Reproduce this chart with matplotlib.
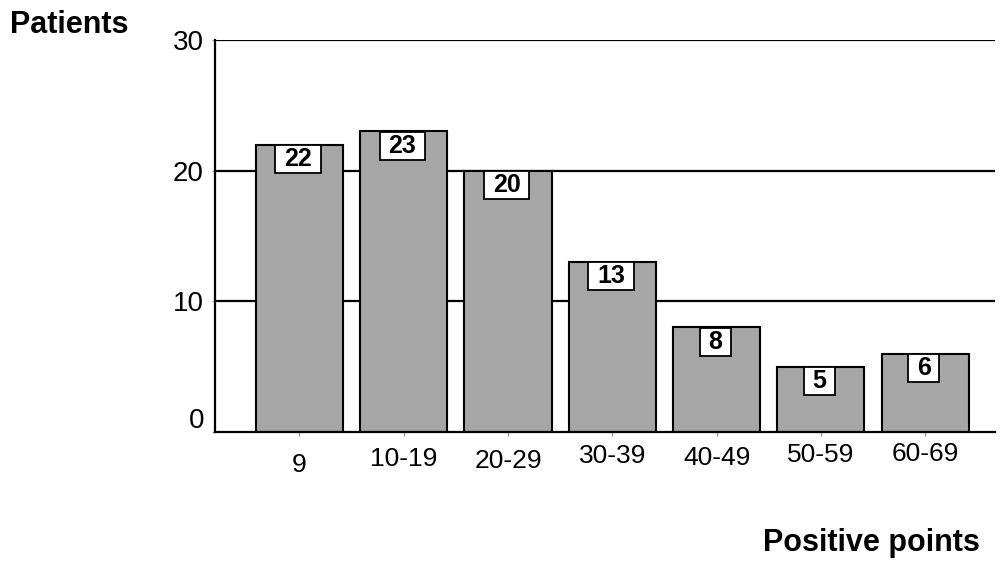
import matplotlib as mpl
mpl.use('Agg')
import matplotlib.pyplot as plt
import matplotlib.transforms as mtransforms
from matplotlib.path import Path

# データ
categories = ['9', '10-19', '20-29', '30-39', '40-49', '50-59', '60-69']
patients = [22, 23, 20, 13, 8, 5, 6]

# ラベルの縦方向のずれ (pt)
LABEL_DY = [-15, -11, -12.5, -9, -10, -8, -7.5]

plt.rcParams['font.family'] = ['Liberation Sans', 'DejaVu Sans']


def wide_box(x0, y0, width, height, mutation_size):
    # 横に広い四角形 (値ラベル用)
    hp = 0.35 * mutation_size
    vp = 0.08 * mutation_size
    x0, y0 = x0 - hp, y0 - vp
    x1, y1 = x0 + width + 2 * hp, y0 + height + 2 * vp
    return Path([(x0, y0), (x1, y0), (x1, y1), (x0, y1), (x0, y0)], closed=True)


fig = plt.figure(figsize=(10, 5.61), dpi=100)
ax = fig.add_axes([0.215, 0.23, 0.78, 0.6987])

x = list(range(len(categories)))

# グリッド線 (棒の後ろ)
for v in [10, 20, 30]:
    ax.axhline(v, color='black', lw=1.6, zorder=1)

ax.bar(x, patients, width=0.835, color='#a6a6a6', edgecolor='black',
       linewidth=1.5, zorder=2)

# 値ラベル
for xi, v in zip(x, patients):
    ax.annotate(str(v), (xi, v), xytext=(-1, -1.5),
                textcoords='offset points',
                ha='center', va='top', fontsize=18, fontweight='bold',
                bbox=dict(boxstyle=wide_box, fc='white', ec='black', lw=1.3),
                zorder=3)

ax.set_xlim(-0.81, 6.67)
ax.set_ylim(0, 30)

ax.set_yticks([0, 10, 20, 30])
ax.tick_params(axis='y', labelsize=20, length=2, color='#999999', pad=6)
# 0 のラベルは少し上にある
ylabs = ax.get_yticklabels()
ylabs[0].set_va('bottom')
ylabs[0].set_transform(ylabs[0].get_transform()
                       + mtransforms.ScaledTranslation(0, -0.02, fig.dpi_scale_trans))

# x 軸ラベル (少しずつずれている)
ax.set_xticks(x)
ax.set_xticklabels([])
ax.tick_params(axis='x', length=3, color='#999999', width=1)
for xi, lab, dy in zip(x, categories, LABEL_DY):
    off = mtransforms.ScaledTranslation(0, dy / 72.0, fig.dpi_scale_trans)
    ax.text(xi, 0, lab, transform=ax.get_xaxis_transform() + off,
            ha='center', va='top', fontsize=19)

for s in ['top', 'right']:
    ax.spines[s].set_visible(False)
ax.spines['left'].set_linewidth(1.6)
ax.spines['bottom'].set_linewidth(1.6)

fig.text(0.01, 0.955, 'Patients', fontsize=22, fontweight='bold', va='center', ha='left')
fig.text(0.98, 0.032, 'Positive points', fontsize=22, fontweight='bold', va='center', ha='right')

fig.savefig('out.png', dpi=100)
